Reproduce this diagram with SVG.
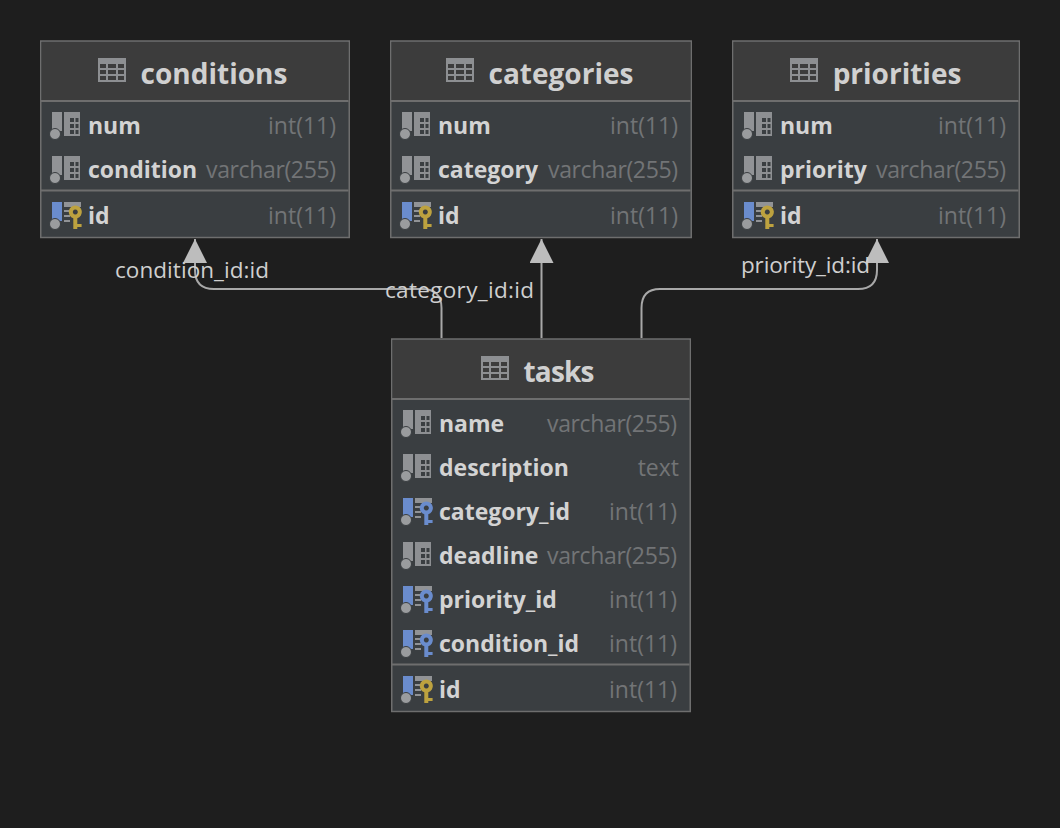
<svg xmlns="http://www.w3.org/2000/svg" width="1060" height="828" viewBox="0 0 1060 828">
<style>
text{font-family:"Open Sans","Liberation Sans",sans-serif}
.box{fill:#3a3e41;stroke:#6e6e6e;stroke-width:1.5}
.head{fill:#3c3c3c}
.sep{stroke:#6e6e6e;stroke-width:2}
.title{font-size:28px;font-weight:700;fill:#d0d0d0;text-anchor:middle}
.col{font-size:23px;font-weight:700;fill:#d3d3d3}
.type{font-size:23px;fill:#727476;text-anchor:end}
.lab{font-size:22.5px;fill:#cfcfcf}
.edge{fill:none;stroke:#a8a8a8;stroke-width:2}
.gray{fill:#919396}
</style>
<defs>
<marker id="arrow" markerUnits="userSpaceOnUse" markerWidth="24" markerHeight="24" refX="24" refY="12" orient="auto" viewBox="0 0 24 24"><path d="M24 12L0 0V24Z" fill="#bdbdbd"/></marker>
<symbol id="tbl" overflow="visible"><path fill="#8d8f92" fill-rule="evenodd" d="M0 0H28V24H0ZM2 6V10H8V6ZM10 6V10H18V6ZM20 6V10H26V6ZM2 12V16H8V12ZM10 12V16H18V12ZM20 12V16H26V12ZM2 18V22H8V18ZM10 18V22H18V18ZM20 18V22H26V18Z"/></symbol>
<symbol id="colicon" overflow="visible"><rect x="1" y="0" width="10" height="19" class="gray"/><circle cx="4" cy="22" r="5.500" fill="#9a9c9e" stroke="#3a3e41"/><path fill="#8d8f92" fill-rule="evenodd" d="M13 0H29V24H13ZM19 6V10H23V6ZM24.500 6V10H27.500V6ZM19 12V16H23V12ZM24.500 12V16H27.500V12ZM19 18V22H23V18ZM24.500 18V22H27.500V18Z"/></symbol>
<symbol id="keybase" overflow="visible"><rect x="1" y="0" width="10" height="19" fill="#6a8ccd"/><circle cx="4" cy="22" r="5.500" fill="#9a9c9e" stroke="#3a3e41"/><rect x="13" y="0" width="17" height="5" class="gray"/><rect x="13" y="8" width="6" height="2" class="gray"/><rect x="13" y="13" width="6" height="2" class="gray"/><rect x="13" y="18" width="6" height="2" class="gray"/></symbol>
<symbol id="pk" overflow="visible"><use href="#keybase"/><path fill="#bda23f" fill-rule="evenodd" d="M24.300 3.500A6.500 6.500 0 0 1 26.300 16.200V22H30.600V25H26.300V27H22.300V16.200A6.500 6.500 0 0 1 24.300 3.500ZM24.300 7.500A2.500 2.500 0 1 0 24.310 7.500Z"/></symbol>
<symbol id="fk" overflow="visible"><use href="#keybase"/><path fill="#6a8ccd" fill-rule="evenodd" d="M24.300 3.500A6.500 6.500 0 0 1 26.300 16.200V22H30.600V25H26.300V27H22.300V16.200A6.500 6.500 0 0 1 24.300 3.500ZM24.300 7.500A2.500 2.500 0 1 0 24.310 7.500Z"/></symbol>
</defs>
<rect width="1060" height="828" fill="#1e1e1e"/>
<g id="connectors">
<path class="edge" marker-end="url(#arrow)" d="M441.500 338V308Q441.500 289 422 289H214Q195 289 195 270V239"/>
<path class="edge" marker-end="url(#arrow)" d="M541.500 338V239"/>
<path class="edge" marker-end="url(#arrow)" d="M641.500 338V308Q641.500 289 660 289H858Q877 289 877 270V239"/>
<text class="lab" x="115" y="278" textLength="154">condition_id:id</text>
<text class="lab" x="385" y="298" textLength="149">category_id:id</text>
<text class="lab" x="741" y="273" textLength="129">priority_id:id</text>
</g>
<g id="conditions">
<rect class="box" x="40.750" y="41" width="308.500" height="196.500"/><rect class="head" x="41.500" y="42" width="307" height="59"/>
<line class="sep" x1="41" x2="348.500" y1="101" y2="101"/><line class="sep" x1="41" x2="348.500" y1="190.500" y2="190.500"/>
<use href="#tbl" x="98" y="58"/><text class="title" x="214" y="84">conditions</text>
<use href="#colicon" x="51" y="112"/><text class="col" x="88" y="134">num</text><text class="type" x="336" y="134">int(11)</text>
<use href="#colicon" x="51" y="156"/><text class="col" x="88" y="178">condition</text><text class="type" x="336" y="178" textLength="130">varchar(255)</text>
<use href="#pk" x="51" y="202"/><text class="col" x="88" y="224">id</text><text class="type" x="336" y="224">int(11)</text>
</g>
<g id="categories">
<rect class="box" x="390.750" y="41" width="300.500" height="196.500"/><rect class="head" x="391.500" y="42" width="299" height="59"/>
<line class="sep" x1="391" x2="690.500" y1="101" y2="101"/><line class="sep" x1="391" x2="690.500" y1="190.500" y2="190.500"/>
<use href="#tbl" x="446" y="58"/><text class="title" x="561" y="84">categories</text>
<use href="#colicon" x="401" y="112"/><text class="col" x="438" y="134">num</text><text class="type" x="678" y="134">int(11)</text>
<use href="#colicon" x="401" y="156"/><text class="col" x="438" y="178">category</text><text class="type" x="678" y="178" textLength="130">varchar(255)</text>
<use href="#pk" x="401" y="202"/><text class="col" x="438" y="224">id</text><text class="type" x="678" y="224">int(11)</text>
</g>
<g id="priorities">
<rect class="box" x="732.750" y="41" width="286.500" height="196.500"/><rect class="head" x="733.500" y="42" width="285" height="59"/>
<line class="sep" x1="733" x2="1018.500" y1="101" y2="101"/><line class="sep" x1="733" x2="1018.500" y1="190.500" y2="190.500"/>
<use href="#tbl" x="790" y="58"/><text class="title" x="897" y="84">priorities</text>
<use href="#colicon" x="743" y="112"/><text class="col" x="780" y="134">num</text><text class="type" x="1006" y="134">int(11)</text>
<use href="#colicon" x="743" y="156"/><text class="col" x="780" y="178">priority</text><text class="type" x="1006" y="178" textLength="130">varchar(255)</text>
<use href="#pk" x="743" y="202"/><text class="col" x="780" y="224">id</text><text class="type" x="1006" y="224">int(11)</text>
</g>
<g id="tasks">
<rect class="box" x="391.750" y="339" width="298.500" height="372.500"/><rect class="head" x="392.500" y="340" width="297" height="59"/>
<line class="sep" x1="392" x2="689.500" y1="399" y2="399"/><line class="sep" x1="392" x2="689.500" y1="664.500" y2="664.500"/>
<use href="#tbl" x="481" y="356"/><text class="title" x="559" y="382" textLength="71">tasks</text>
<use href="#colicon" x="402" y="410"/><text class="col" x="439" y="432">name</text><text class="type" x="677" y="432" textLength="130">varchar(255)</text>
<use href="#colicon" x="402" y="454"/><text class="col" x="439" y="476">description</text><text class="type" x="679" y="476">text</text>
<use href="#fk" x="402" y="498"/><text class="col" x="439" y="520">category_id</text><text class="type" x="677" y="520">int(11)</text>
<use href="#colicon" x="402" y="542"/><text class="col" x="439" y="564">deadline</text><text class="type" x="677" y="564" textLength="130">varchar(255)</text>
<use href="#fk" x="402" y="586"/><text class="col" x="439" y="608">priority_id</text><text class="type" x="677" y="608">int(11)</text>
<use href="#fk" x="402" y="630"/><text class="col" x="439" y="652">condition_id</text><text class="type" x="677" y="652">int(11)</text>
<use href="#pk" x="402" y="676"/><text class="col" x="439" y="698">id</text><text class="type" x="677" y="698">int(11)</text>
</g>
</svg>
